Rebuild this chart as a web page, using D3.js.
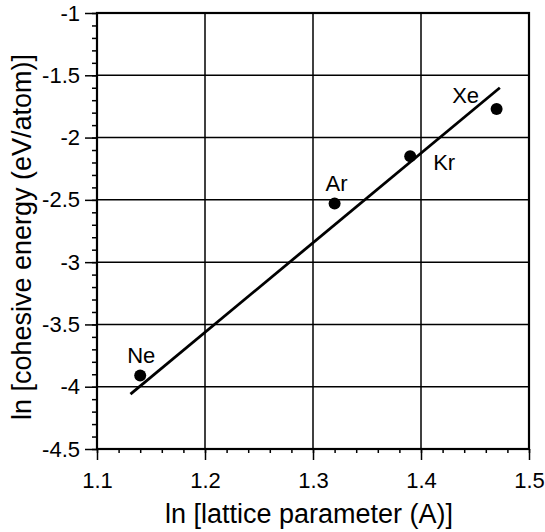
<!DOCTYPE html>
<html>
<head>
<meta charset="utf-8">
<script src="https://cdn.jsdelivr.net/npm/d3@7"></script>
<style>
  body { margin: 0; background: #fff; }
  svg { font-family: "Liberation Sans", Arial, sans-serif; }
</style>
</head>
<body>
<div id="chart"></div>
<script>
// measured points (ln a, ln Ec)
var gases = ["Ne", "Ar", "Kr", "Xe"];
var lnLattice = [1.14, 1.32, 1.39, 1.47];
var lnEnergy = [-3.91, -2.53, -2.15, -1.77];
// fitted straight line, two ends
var fitX = [1.131, 1.473];
var fitY = [-4.06, -1.60];
var xTicks = [1.1, 1.2, 1.3, 1.4, 1.5];
var yTicks = [-1, -1.5, -2, -2.5, -3, -3.5, -4, -4.5];

var W = 545, H = 532;
var margin = {top: 13, right: 16, bottom: 83, left: 97};
var width = W - margin.left - margin.right;
var height = H - margin.top - margin.bottom;

var svg = d3.select("#chart").append("svg")
    .attr("width", W).attr("height", H);
var g = svg.append("g")
    .attr("transform", "translate(" + margin.left + "," + margin.top + ")");

var x = d3.scaleLinear().domain([1.1, 1.5]).range([0, width]);
var y = d3.scaleLinear().domain([-4.5, -1]).range([height, 0]);

// grid
g.append("g").selectAll("line").data(xTicks).join("line")
    .attr("x1", d => x(d)).attr("x2", d => x(d))
    .attr("y1", 0).attr("y2", height)
    .attr("stroke", "#000").attr("stroke-width", 1.5);
g.append("g").selectAll("line").data(yTicks).join("line")
    .attr("x1", 0).attr("x2", width)
    .attr("y1", d => y(d)).attr("y2", d => y(d))
    .attr("stroke", "#000").attr("stroke-width", 1.5);

// minor ticks
var xMinor = d3.range(1.1, 1.5001, 0.02);
var yMinor = d3.range(-4.5, -0.9999, 0.1);
g.append("g").attr("transform", "translate(0," + height + ")")
    .call(d3.axisBottom(x).tickValues(xMinor).tickSize(4).tickFormat(""))
    .call(s => s.select(".domain").remove())
    .selectAll("line").attr("stroke-width", 1.5);
g.append("g")
    .call(d3.axisLeft(y).tickValues(yMinor).tickSize(5).tickFormat(""))
    .call(s => s.select(".domain").remove())
    .selectAll("line").attr("stroke-width", 1.5);

// major axes
var xAxis = g.append("g").attr("transform", "translate(0," + height + ")")
    .call(d3.axisBottom(x).tickValues(xTicks).tickSize(11).tickPadding(12)
        .tickFormat(d3.format(".1f")));
var yAxis = g.append("g")
    .call(d3.axisLeft(y).tickValues(yTicks).tickSize(12).tickPadding(5)
        .tickFormat(d => d3.format("")(d).replace("−", "-")));
[xAxis, yAxis].forEach(function(a) {
    a.select(".domain").remove();
    a.selectAll("line").attr("stroke-width", 1.5);
    a.selectAll("text").attr("font-size", 22).attr("fill", "#000")
        .attr("font-family", "Liberation Sans, Arial, sans-serif");
});

// frame
g.append("rect").attr("width", width).attr("height", height)
    .attr("fill", "none").attr("stroke", "#000").attr("stroke-width", 2.2);

// fit line
g.append("path")
    .attr("d", d3.line().x(d => x(d[0])).y(d => y(d[1]))(d3.zip(fitX, fitY)))
    .attr("stroke", "#000").attr("stroke-width", 2.8).attr("fill", "none");

// points
g.append("g").selectAll("circle").data(gases).join("circle")
    .attr("cx", (d, i) => x(lnLattice[i])).attr("cy", (d, i) => y(lnEnergy[i]))
    .attr("r", 6).attr("fill", "#000");

// labels
var labelDx = [1, 2, 34, -31];
var labelDy = [-13, -13, 14, -6];
g.append("g").selectAll("text").data(gases).join("text")
    .attr("x", (d, i) => x(lnLattice[i]) + labelDx[i])
    .attr("y", (d, i) => y(lnEnergy[i]) + labelDy[i])
    .attr("text-anchor", "middle").attr("font-size", 22)
    .text(d => d);

// axis titles
svg.append("text")
    .attr("x", 309).attr("y", 523)
    .attr("text-anchor", "middle").attr("font-size", 27)
    .text("ln [lattice parameter (A)]");
svg.append("text")
    .attr("transform", "translate(31," + (margin.top + height / 2 + 6) + ")rotate(-90)")
    .attr("text-anchor", "middle").attr("font-size", 27)
    .text("ln [cohesive energy (eV/atom)]");
</script>
</body>
</html>
